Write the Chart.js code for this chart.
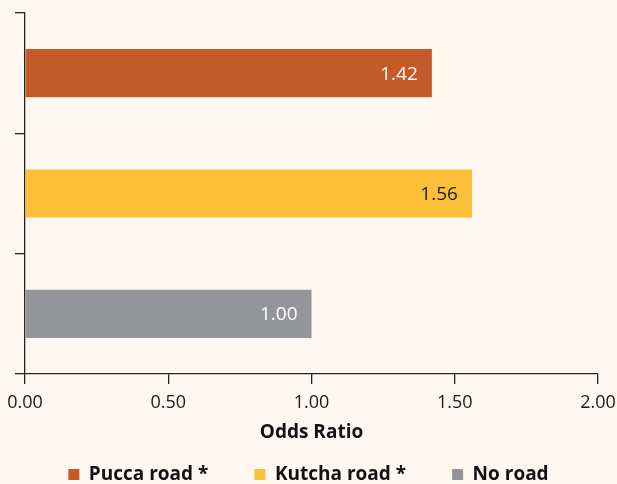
<!DOCTYPE html>
<html>
<head>
<meta charset="utf-8">
<script src="https://cdn.jsdelivr.net/npm/chart.js@4/dist/chart.umd.min.js"></script>
<style>
  html, body { margin: 0; padding: 0; background: #fef7f0; }
  #wrap { width: 617px; height: 484px; position: relative; }
</style>
</head>
<body>
<div id="wrap"><canvas id="c" width="617" height="484"></canvas></div>
<script>
const categories = ['Pucca road *', 'Kutcha road *', 'No road'];
const oddsRatios = [1.42, 1.56, 1.00];
const barColors = ['#c45a28', '#fbbf38', '#939598'];
const valueLabelColors = ['#ffffff', '#1a1a1a', '#ffffff'];
const xTickValues = [0, 0.5, 1, 1.5, 2];
const xAxisTitle = 'Odds Ratio';

const FONT = "'Open Sans', 'Noto Sans', sans-serif";

const valueLabels = {
  id: 'valueLabels',
  afterDatasetsDraw(chart) {
    const ctx = chart.ctx;
    const meta = chart.getDatasetMeta(0);
    ctx.save();
    ctx.font = '19px ' + FONT;
    ctx.textAlign = 'right';
    ctx.textBaseline = 'middle';
    meta.data.forEach((bar, i) => {
      ctx.fillStyle = valueLabelColors[i];
      ctx.fillText(oddsRatios[i].toFixed(2), bar.x - 14, bar.y + 1);
    });
    ctx.restore();
  }
};

new Chart(document.getElementById('c'), {
  type: 'bar',
  data: {
    labels: categories,
    datasets: [{
      data: oddsRatios,
      backgroundColor: barColors,
      borderWidth: 0,
      categoryPercentage: 0.8,
      barPercentage: 0.5
    }]
  },
  options: {
    indexAxis: 'y',
    responsive: false,
    animation: false,
    layout: { padding: { top: 13, right: 0, left: 0, bottom: 0 } },
    scales: {
      x: {
        min: 0, max: 2,
        afterBuildTicks(scale) { scale.ticks = xTickValues.map(v => ({ value: v })); },
        afterFit(scale) { scale.height = 45; scale.paddingRight = 19; scale.paddingLeft = 0; },
        grid: { drawOnChartArea: false, tickLength: 10, color: '#222', lineWidth: 1.3 },
        border: { display: true, color: '#222', width: 1.3 },
        ticks: {
          padding: 8,
          color: '#1a1a1a',
          font: { family: FONT, size: 18 },
          callback: v => Number(v).toFixed(2)
        },
        title: {
          display: true,
          text: xAxisTitle,
          color: '#111',
          font: { family: FONT, size: 19, weight: 'bold' },
          padding: { top: 0, bottom: -25.4 }
        }
      },
      y: {
        afterFit(scale) { scale.width = 25; },
        grid: { drawOnChartArea: false, tickLength: 10, color: '#222', lineWidth: 1.3, offset: true },
        border: { display: true, color: '#222', width: 1.3 },
        ticks: { display: false }
      }
    },
    plugins: {
      legend: {
        position: 'bottom',
        maxHeight: 65,
        labels: {
          boxWidth: 11,
          boxHeight: 11,
          padding: 46,
          color: '#111',
          font: { family: FONT, size: 19, weight: 'bold' },
          generateLabels: (chart) => categories.map((c, i) => ({
            text: c,
            fillStyle: barColors[i],
            strokeStyle: barColors[i],
            lineWidth: 0,
            fontColor: '#111',
            hidden: false,
            index: i
          }))
        },
        onClick: () => {}
      },
      tooltip: { enabled: false }
    }
  },
  plugins: [valueLabels]
});
</script>
</body>
</html>
